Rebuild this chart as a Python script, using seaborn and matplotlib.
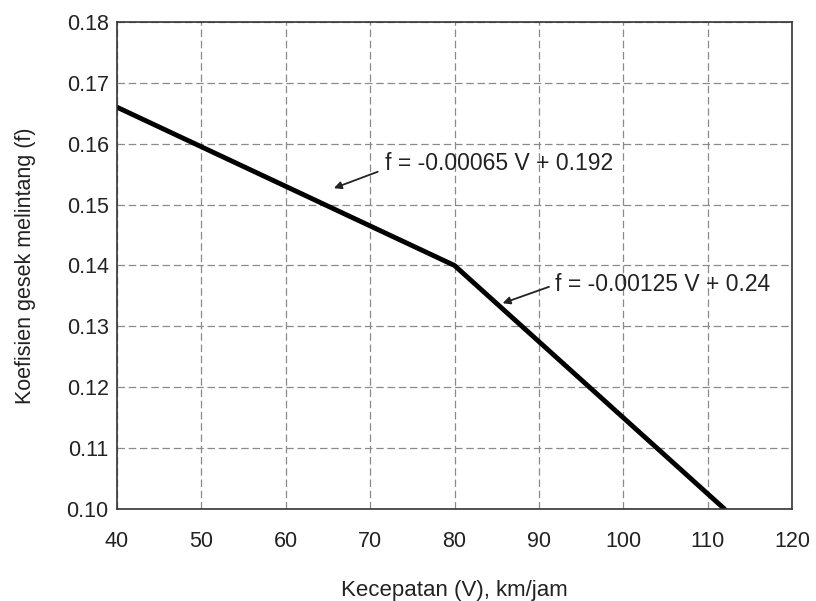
import matplotlib
matplotlib.use('Agg')
from matplotlib import pyplot as plt
import seaborn as sns
import pandas

# breakpoints of the friction curve
kecepatan = [40, 80, 112]
koefisien = [0.166, 0.140, 0.100]

x_ticks = [40, 50, 60, 70, 80, 90, 100, 110, 120]
y_ticks = [0.10, 0.11, 0.12, 0.13, 0.14, 0.15, 0.16, 0.17, 0.18]

label_1 = 'f = -0.00065 V + 0.192'
label_2 = 'f = -0.00125 V + 0.24'

sns.set_style('white')
plt.rcParams['font.family'] = ['Liberation Sans', 'DejaVu Sans']

df = pandas.DataFrame({'V': kecepatan, 'f': koefisien})

fig = plt.figure(figsize=(8.16, 6.01), dpi=100)
ax = fig.add_axes([0.1434, 0.1531, 0.8272, 0.8103])
sns.lineplot(data=df, x='V', y='f', color='black', linewidth=3.5, ax=ax)

ax.set_xlim(40, 120)
ax.set_ylim(0.10, 0.18)
ax.set_xticks(x_ticks)
ax.set_yticks(y_ticks)
ax.set_yticklabels(['%.2f' % t for t in y_ticks])
ax.grid(True, linestyle=(0, (6, 3)), color='#8a8a8a', linewidth=0.9)
ax.tick_params(direction='in', labelsize=15.5, length=4, colors='#222222')
ax.tick_params(axis='x', pad=16)
ax.tick_params(axis='y', pad=6)
for s in ax.spines.values():
    s.set_color('#333333')
    s.set_linewidth(1.2)

ax.set_xlabel('Kecepatan (V), km/jam', fontsize=16, labelpad=20, color='#222222')
ax.set_ylabel('Koefisien gesek melintang (f)', fontsize=15.5, labelpad=22, color='#222222')

ax.text(71.75, 0.1568, label_1, fontsize=16.5, va='center', ha='left', color='#222222')
ax.annotate('', xy=(65.7, 0.1527), xytext=(70.9, 0.1554),
            arrowprops=dict(arrowstyle='-|>', color='#222222', lw=1.3, mutation_scale=11,
                            shrinkA=0, shrinkB=0))
ax.text(91.9, 0.1368, label_2, fontsize=16.5, va='center', ha='left', color='#222222')
ax.annotate('', xy=(85.7, 0.1338), xytext=(91.2, 0.1365),
            arrowprops=dict(arrowstyle='-|>', color='#222222', lw=1.3, mutation_scale=11,
                            shrinkA=0, shrinkB=0))

plt.savefig('out.png', dpi=100)
